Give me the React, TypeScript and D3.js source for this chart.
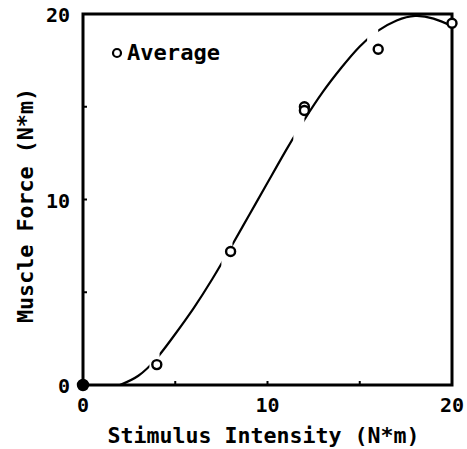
import React, { useEffect, useRef } from 'react';
import * as d3 from 'd3';

// measured averages
const pointX = [0, 4, 8, 12, 12, 16, 20];
const pointY = [0, 1.1, 7.2, 15.0, 14.8, 18.1, 19.5];

// fitted curve
const fitX = [2, 3, 4, 5, 6, 7, 8, 9, 10, 11, 12, 13, 14, 15, 16, 17, 18, 19, 20];
const fitY = [0, 0.5, 1.45, 2.75, 4.15, 5.7, 7.4, 9.15, 10.9, 12.65, 14.3, 15.8, 17.1, 18.25, 19.1, 19.65, 19.9, 19.75, 19.35];

// places where the plotter pen lifted near markers
const gapStart = [3.6, 7.5, 11.4, 15.4];
const gapEnd = [4.15, 8.1, 12.0, 16.0];

const tickValues = [0, 10, 20];
const minorTicks = [5, 15];

const W = 467;
const H = 449;
const FONT = '"DejaVu Sans Mono", monospace';

const App = () => {
    const svgRef = useRef(null);

    useEffect(() => {
        const svg = d3.select(svgRef.current);
        svg.selectAll('*').remove();

        const left = 83, right = 452, top = 14, bottom = 385;

        const x = d3.scaleLinear().domain([0, 20]).range([left, right]);
        const y = d3.scaleLinear().domain([0, 20]).range([bottom, top]);

        // mask for curve gaps
        const mask = svg.append('defs').append('mask').attr('id', 'gaps');
        mask.append('rect').attr('x', 0).attr('y', 0).attr('width', W).attr('height', H).attr('fill', 'white');
        gapStart.forEach((g, i) => {
            mask.append('rect')
                .attr('x', x(g))
                .attr('y', 0)
                .attr('width', x(gapEnd[i]) - x(g))
                .attr('height', H)
                .attr('fill', 'black');
        });

        const line = d3.line()
            .x(d => x(d[0]))
            .y(d => y(d[1]))
            .curve(d3.curveNatural);

        svg.append('path')
            .datum(fitX.map((v, i) => [v, fitY[i]]))
            .attr('d', line)
            .attr('fill', 'none')
            .attr('stroke', '#000')
            .attr('stroke-width', 2.2)
            .attr('mask', 'url(#gaps)');

        // frame
        svg.append('rect')
            .attr('x', left)
            .attr('y', top)
            .attr('width', right - left)
            .attr('height', bottom - top)
            .attr('fill', 'none')
            .attr('stroke', '#000')
            .attr('stroke-width', 3);

        // small inward ticks
        const allTicks = [10, ...minorTicks];
        allTicks.forEach(t => {
            svg.append('line').attr('x1', x(t)).attr('x2', x(t)).attr('y1', bottom).attr('y2', bottom - 4)
                .attr('stroke', '#000').attr('stroke-width', 2);
            svg.append('line').attr('x1', left).attr('x2', left + 4).attr('y1', y(t)).attr('y2', y(t))
                .attr('stroke', '#000').attr('stroke-width', 2);
        });

        // tick labels
        svg.selectAll('text.xt')
            .data(tickValues)
            .enter()
            .append('text')
            .attr('x', d => x(d))
            .attr('y', 412)
            .attr('text-anchor', 'middle')
            .attr('font-family', FONT)
            .attr('font-weight', 'bold')
            .attr('font-size', 20)
            .text(d => d);

        svg.selectAll('text.yt')
            .data(tickValues)
            .enter()
            .append('text')
            .attr('x', 70)
            .attr('y', d => y(d) + 8)
            .attr('text-anchor', 'end')
            .attr('font-family', FONT)
            .attr('font-weight', 'bold')
            .attr('font-size', 20)
            .text(d => d);

        // axis titles
        svg.append('text')
            .attr('x', (left + right) / 2 - 4)
            .attr('y', 443)
            .attr('text-anchor', 'middle')
            .attr('font-family', FONT)
            .attr('font-weight', 'bold')
            .attr('font-size', 21)
            .attr('textLength', 312)
            .attr('lengthAdjust', 'spacingAndGlyphs')
            .text('Stimulus Intensity  (N*m)');

        svg.append('text')
            .attr('transform', `translate(33,${(88 + 323) / 2}) rotate(-90)`)
            .attr('text-anchor', 'middle')
            .attr('font-family', FONT)
            .attr('font-weight', 'bold')
            .attr('font-size', 21)
            .attr('textLength', 235)
            .attr('lengthAdjust', 'spacingAndGlyphs')
            .text('Muscle Force  (N*m)');

        // points
        svg.selectAll('circle.pt')
            .data(pointX.map((v, i) => [v, pointY[i]]))
            .enter()
            .append('circle')
            .attr('cx', d => x(d[0]))
            .attr('cy', d => y(d[1]))
            .attr('r', d => (d[0] === 0 ? 5 : 4.5))
            .attr('fill', d => (d[0] === 0 ? '#000' : '#fff'))
            .attr('stroke', '#000')
            .attr('stroke-width', 2.4);

        // legend
        svg.append('circle')
            .attr('cx', 117)
            .attr('cy', 53)
            .attr('r', 4)
            .attr('fill', '#fff')
            .attr('stroke', '#000')
            .attr('stroke-width', 2.2);
        svg.append('text')
            .attr('x', 127)
            .attr('y', 60)
            .attr('font-family', FONT)
            .attr('font-weight', 'bold')
            .attr('font-size', 21)
            .attr('textLength', 93)
            .attr('lengthAdjust', 'spacingAndGlyphs')
            .text('Average');
    }, []);

    return (
        <svg
            ref={svgRef}
            width={W}
            height={H}
            style={{ position: 'absolute', left: 0, top: 0, background: '#fff' }}
        ></svg>
    );
};

export default App;
